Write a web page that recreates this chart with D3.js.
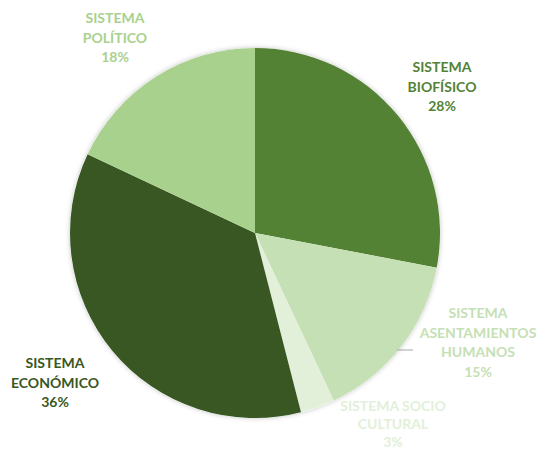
<!DOCTYPE html>
<html><head><meta charset="utf-8">
<script src="https://cdn.jsdelivr.net/npm/d3@7"></script>
<style>body{margin:0;background:#fff}svg{display:block}</style>
</head><body>
<script>
const categories = [["SISTEMA","BIOFÍSICO"],["SISTEMA","ASENTAMIENTOS","HUMANOS"],["SISTEMA SOCIO","CULTURAL"],["SISTEMA","ECONÓMICO"],["SISTEMA","POLÍTICO"]];
const values = [28, 15, 3, 36, 18];
const colors = ["#548235", "#C5E0B4", "#E2F0D9", "#385723", "#A9D18E"];
const labelPos = [[442,72],[478,318],[393,411],[55,368],[115,23]];
const lineGap = [19.5, 19.5, 18, 19.5, 19.5];

const W = 541, H = 452;
const svg = d3.select("body").append("svg").attr("width", W).attr("height", H);
const defs = svg.append("defs");
const f = defs.append("filter").attr("id","sh").attr("x","-10%").attr("y","-10%").attr("width","120%").attr("height","120%");
f.append("feDropShadow").attr("dx",0).attr("dy",0).attr("stdDeviation",2.5).attr("flood-color","#000").attr("flood-opacity",0.25);

const cx = 255, cy = 233, r = 185;
const pie = d3.pie().sort(null).value(d => d)(values);
const arc = d3.arc().innerRadius(0).outerRadius(r);
const g = svg.append("g").attr("transform", `translate(${cx},${cy})`);
g.append("circle").attr("r", r).attr("fill", "#fff").attr("filter", "url(#sh)");
g.selectAll("path").data(pie).enter().append("path")
  .attr("d", arc).attr("fill", (d,i) => colors[i]);

// leader line for asentamientos
svg.append("line").attr("x1",397).attr("y1",350).attr("x2",413).attr("y2",350)
  .attr("stroke","#a6a6a6").attr("stroke-width",1);

categories.forEach((lines, i) => {
  const [x, y] = labelPos[i];
  const t = svg.append("text").attr("text-anchor","middle")
    .attr("font-family","Lato, 'Open Sans', sans-serif").attr("font-weight","bold")
    .attr("font-size",14).attr("fill",colors[i]);
  const all = lines.concat([values[i] + "%"]);
  all.forEach((s, j) => t.append("tspan").attr("x", x).attr("y", y + j*lineGap[i]).text(s));
});
</script>
</body></html>
